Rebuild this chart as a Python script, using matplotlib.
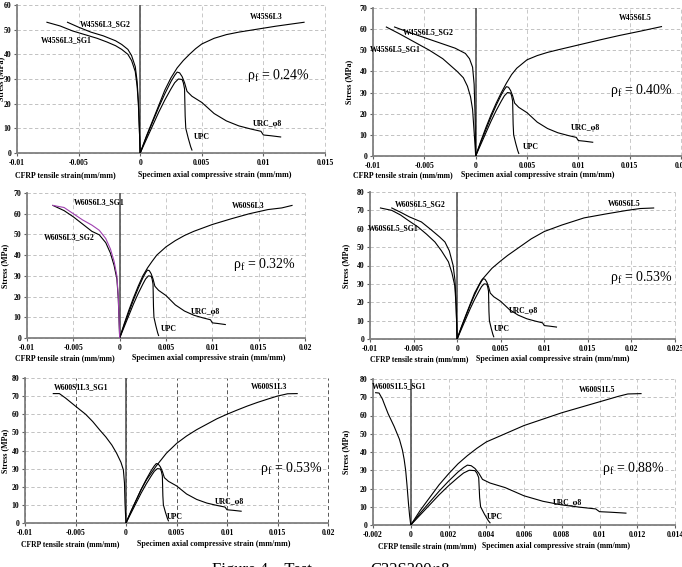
import matplotlib
matplotlib.use("Agg")
import matplotlib.pyplot as plt

plt.rcParams['font.family'] = ['Liberation Serif', 'DejaVu Serif']
plt.rcParams['mathtext.fontset'] = 'custom'
plt.rcParams['mathtext.rm'] = 'Liberation Serif'
plt.rcParams['mathtext.it'] = 'Liberation Serif:italic'

# ---------------- data ----------------
upc_x = [0, 0.0005, 0.001, 0.0015, 0.002, 0.0025, 0.0028, 0.0031, 0.0034, 0.0035, 0.0036, 0.00365, 0.0037, 0.0039, 0.0041, 0.0042]
upc_y = [0, 5.5, 11, 16.5, 21.5, 26, 28.5, 30, 29.8, 28.5, 26, 15, 10, 6, 2.5, 1.2]

urc_x = [0, 0.0005, 0.001, 0.0015, 0.002, 0.0025, 0.0028, 0.003, 0.0032, 0.0034, 0.0036, 0.0038, 0.0042, 0.005, 0.006, 0.007, 0.008, 0.009, 0.0098, 0.0100, 0.0106, 0.0114]
urc_y = [0, 6.5, 12.5, 18.5, 24, 29, 31.5, 32.8, 32.5, 31, 28.5, 25, 23, 20.5, 16, 13, 11, 9.7, 8.8, 7.3, 7, 6.5]

# panel a: W45S6L3
a_spec_x = [0, 0.0005, 0.001, 0.0015, 0.002, 0.0025, 0.003, 0.0035, 0.004, 0.0045, 0.005, 0.006, 0.007, 0.008, 0.009, 0.01, 0.011, 0.012, 0.0133]
a_spec_y = [0, 6.8, 13, 19.2, 25.5, 30.5, 34.5, 37.5, 40, 42.3, 44.2, 46.5, 48, 49, 49.8, 50.6, 51.4, 52.1, 53]
a_sg1_x = [-0.00757, -0.0065, -0.0055, -0.0045, -0.0035, -0.0027, -0.002, -0.0015, -0.001, -0.0007, -0.0004, -0.00025, -0.00015, -0.00007, 0]
a_sg1_y = [53, 51.5, 49.5, 48, 46.5, 45, 43.5, 42, 40, 37.5, 33, 27, 20, 10, 0]
a_sg2_x = [-0.0059, -0.005, -0.004, -0.003, -0.002, -0.0015, -0.001, -0.0007, -0.0004, -0.00025, -0.00015, -0.00007, 0]
a_sg2_y = [53, 51, 49, 47.5, 45.5, 44, 42, 39.5, 35, 29, 21, 10, 0]

# panel b: W45S6L5
b_spec_x = [0, 0.0005, 0.001, 0.0015, 0.002, 0.0025, 0.003, 0.0035, 0.004, 0.005, 0.006, 0.007, 0.008, 0.01, 0.012, 0.014, 0.016, 0.0181]
b_spec_y = [0, 7, 13.5, 19.5, 25, 30, 34.5, 38.5, 41.5, 45.5, 47.5, 49, 50.2, 52.5, 54.8, 57, 59, 61.2]
b_sg1_x = [-0.0087, -0.0075, -0.006, -0.0045, -0.0032, -0.0025, -0.0018, -0.0012, -0.0008, -0.0005, -0.0003, -0.00016, -0.00006, 0]
b_sg1_y = [61, 58, 54, 50, 46, 43, 40, 37, 33, 28, 22, 12, 5, 0]
b_sg2_x = [-0.0079, -0.0065, -0.005, -0.0035, -0.002, -0.001, -0.0006, -0.0003, -0.00015, -0.00006, 0]
b_sg2_y = [61, 58.5, 56, 53.5, 51, 48.5, 46, 42, 34, 20, 0]

# panel c: W60S6L3
c_spec_x = [0, 0.0005, 0.001, 0.0015, 0.002, 0.0025, 0.003, 0.0035, 0.004, 0.005, 0.006, 0.007, 0.008, 0.01, 0.012, 0.014, 0.016, 0.0175, 0.0186]
c_spec_y = [0, 7, 13.5, 19.5, 25, 30, 33.8, 37, 40, 44, 47, 49.5, 51.5, 54.8, 57.5, 60, 62, 62.8, 64]
c_sg1_x = [-0.0072, -0.006, -0.005, -0.004, -0.003, -0.0022, -0.0015, -0.001, -0.0006, -0.0003, -0.00015, -0.00007, 0]
c_sg1_y = [64, 63, 60, 57, 54.5, 52, 48, 43, 37, 30, 20, 10, 0]
c_sg2_x = [-0.0072, -0.006, -0.005, -0.004, -0.003, -0.0022, -0.0015, -0.001, -0.0006, -0.0003, -0.00015, -0.00007, 0]
c_sg2_y = [64, 61.5, 58.5, 55, 51.5, 49.8, 46, 41, 35, 28.5, 19, 9, 0]

# panel d: W60S6L5
d_spec_x = [0, 0.0005, 0.001, 0.0015, 0.002, 0.0028, 0.004, 0.005, 0.0058, 0.007, 0.0085, 0.01, 0.012, 0.01456, 0.017, 0.0195, 0.021, 0.02255]
d_spec_y = [0, 6.8, 13, 19, 25, 32, 38.5, 42.5, 45.5, 49.5, 54.5, 58.5, 62, 65.9, 68, 70, 71, 71.3]
d_sg1_x = [-0.0088, -0.0075, -0.0065, -0.0056, -0.0045, -0.0035, -0.00255, -0.0018, -0.001, -0.0006, -0.00027, -0.00012, -0.00005, 0]
d_sg1_y = [71.3, 70, 67.5, 64.5, 61, 57, 52.8, 48, 42, 36, 29, 18, 8, 0]
d_sg2_x = [-0.0075, -0.0065, -0.0055, -0.0041, -0.003, -0.002, -0.0014, -0.0009, -0.00046, -0.00025, -0.00015, -0.00005, 0]
d_sg2_y = [71.3, 69, 66.5, 63.7, 59.5, 55.5, 52.8, 48, 40, 32, 22, 8, 0]

# panel e: W600S1L3
e_spec_x = [0, 0.0005, 0.001, 0.0015, 0.00205, 0.003, 0.004, 0.00503, 0.006, 0.007, 0.008, 0.009, 0.01, 0.011, 0.012, 0.013, 0.014, 0.01497, 0.016, 0.01695]
e_spec_y = [0, 6.5, 12.5, 18.5, 24, 31.5, 38.5, 44, 48, 51.5, 54.5, 57.5, 60, 62.3, 64.5, 66.5, 68.3, 70, 71.3, 71.4]
e_sg1_x = [-0.0072, -0.0066, -0.006, -0.0049, -0.004, -0.0033, -0.0026, -0.002, -0.0014, -0.00093, -0.0005, -0.00026, -0.00015, -0.0001, -0.00005, 0]
e_sg1_y = [71.4, 71.4, 69, 64, 60, 56, 51.3, 47.5, 43, 38.5, 33.5, 29.3, 22, 11, 5, 0]

# panel f: W600S1L5
f_spec_x = [0, 0.0005, 0.001, 0.0015, 0.002, 0.0025, 0.003, 0.0035, 0.004, 0.005, 0.006, 0.007, 0.008, 0.009, 0.01, 0.011, 0.0115, 0.0122]
f_spec_y = [0, 8, 15, 22, 28, 33.5, 38, 42, 45.5, 50, 54.5, 58, 61.5, 64.5, 67.5, 70.5, 71.8, 72]
f_sg1_x = [-0.00186, -0.00168, -0.0015, -0.00142, -0.0012, -0.00088, -0.0006, -0.00044, -0.00035, -0.00027, -0.0002, -0.00012, -0.00006, 0]
f_sg1_y = [72.5, 72.3, 69, 66.8, 61, 54, 47, 41, 36, 30, 22, 11.7, 5, 0]

W, H = 682, 567
fig = plt.figure(figsize=(W / 100, H / 100), dpi=100)


def rect(l, t, r, b):
    return [l / W, 1 - b / H, (r - l) / W, (b - t) / H]


def fx(px):
    return px / W


def fy(py):
    return 1 - py / H


lbl = dict(fontweight='bold', fontsize=5.6)

panels = [
    dict(r=(17, 5, 325, 153), xlim=(-0.01, 0.015), ylim=(0, 60), xt=[-0.01, -0.005, 0, 0.005, 0.01, 0.015],
         xtl=['-0.01', '-0.005', '0', '0.005', '0.01', '0.015'],
         spec=(a_spec_x, a_spec_y, 'W45S6L3', (0.00891, 55.1)),
         sgs=[(a_sg1_x, a_sg1_y, 'W45S6L3_SG1', (-0.00805, 45.8), 'black'),
              (a_sg2_x, a_sg2_y, 'W45S6L3_SG2', (-0.00489, 52.3), 'black')],
         rho='0.24%', rho_xy=(0.00867, 31.6), urc_xy=(0.00916, 11.8), upc_xy=(0.00437, 6.5),
         ylab_x=1, xl1=('CFRP tensile strain(mm/mm)', 15, 175, 5.7), xl2=('Specimen axial compressive strain (mm/mm)', 138, 175, 5.7)),
    dict(r=(373, 8, 681, 156), xlim=(-0.01, 0.02), ylim=(0, 70), xt=[-0.01, -0.005, 0, 0.005, 0.01, 0.015, 0.02],
         xtl=['-0.01', '-0.005', '0', '0.005', '0.01', '0.015', '0.02'],
         spec=(b_spec_x, b_spec_y, 'W45S6L5', (0.01396, 65.3)),
         sgs=[(b_sg1_x, b_sg1_y, 'W45S6L5_SG1', (-0.0103, 50.6), 'black'),
              (b_sg2_x, b_sg2_y, 'W45S6L5_SG2', (-0.00708, 58.7), 'black')],
         rho='0.40%', rho_xy=(0.01308, 31.2), urc_xy=(0.00929, 13.2), upc_xy=(0.00461, 4.3),
         ylab_x=349, xl1=('CFRP tensile strain (mm/mm)', 353, 175, 5.6), xl2=('Specimen axial compressive strain (mm/mm)', 461, 175, 5.7)),
    dict(r=(27, 193, 305, 338), xlim=(-0.01, 0.02), ylim=(0, 70), xt=[-0.01, -0.005, 0, 0.005, 0.01, 0.015, 0.02],
         xtl=['-0.01', '-0.005', '0', '0.005', '0.01', '0.015', '0.02'],
         spec=(c_spec_x, c_spec_y, 'W60S6L3', (0.0121, 63.7)),
         sgs=[(c_sg2_x, c_sg2_y, 'W60S6L3_SG2', (-0.00817, 48.8), 'black'),
              (c_sg1_x, c_sg1_y, 'W60S6L3_SG1', (-0.00493, 65.7), '#a040b0')],
         rho='0.32%', rho_xy=(0.0122, 35.7), urc_xy=(0.0077, 12.6), upc_xy=(0.00445, 4.3),
         ylab_x=5, xl1=('CFRP tensile strain (mm/mm)', 15, 358, 5.6), xl2=('Specimen axial compressive strain (mm/mm)', 132, 358, 5.7)),
    dict(r=(370, 192, 675, 339), xlim=(-0.01, 0.025), ylim=(0, 80), xt=[-0.01, -0.005, 0, 0.005, 0.01, 0.015, 0.02, 0.025],
         xtl=['-0.01', '-0.005', '0', '0.005', '0.01', '0.015', '0.02', '0.025'],
         spec=(d_spec_x, d_spec_y, 'W60S6L5', (0.0173, 73.5)),
         sgs=[(d_sg1_x, d_sg1_y, 'W60S6L5_SG1', (-0.0102, 60.4), 'black'),
              (d_sg2_x, d_sg2_y, 'W60S6L5_SG2', (-0.00713, 73.5), 'black')],
         rho='0.53%', rho_xy=(0.01754, 33.2), urc_xy=(0.00595, 15.2), upc_xy=(0.00423, 5.4),
         ylab_x=346, xl1=('CFRP tensile strain (mm/mm)', 370, 359, 5.5), xl2=('Specimen axial compressive strain (mm/mm)', 476, 359, 5.7)),
    dict(r=(25, 378, 328, 523), xlim=(-0.01, 0.02), ylim=(0, 80), xt=[-0.01, -0.005, 0, 0.005, 0.01, 0.015, 0.02],
         xtl=['-0.01', '-0.005', '0', '0.005', '0.01', '0.015', '0.02'],
         spec=(e_spec_x, e_spec_y, 'W600S1L3', (0.01238, 75)),
         sgs=[(e_sg1_x, e_sg1_y, 'W600S1L3_SG1', (-0.00713, 75), 'black')],
         rho='0.53%', rho_xy=(0.01327, 30.3), urc_xy=(0.00881, 11.6), upc_xy=(0.00406, 3.3),
         ylab_x=5, xl1=('CFRP tensile strain (mm/mm)', 21, 544, 5.5), xl2=('Specimen axial compressive strain (mm/mm)', 137, 544, 5.7),
         dark_vgrid=True),
    dict(r=(373, 379, 675, 525), xlim=(-0.002, 0.014), ylim=(0, 80),
         xt=[-0.002, 0, 0.002, 0.004, 0.006, 0.008, 0.01, 0.012, 0.014],
         xtl=['-0.002', '0', '0.002', '0.004', '0.006', '0.008', '0.01', '0.012', '0.014'],
         spec=(f_spec_x, f_spec_y, 'W600S1L5', (0.00891, 74)),
         sgs=[(f_sg1_x, f_sg1_y, 'W600S1L5_SG1', (-0.00205, 76.2), 'black')],
         rho='0.88%', rho_xy=(0.01013, 31.2), urc_xy=(0.00754, 12), upc_xy=(0.00404, 4.4),
         ylab_x=346, xl1=('CFRP tensile strain (mm/mm)', 378, 546, 5.5), xl2=('Specimen axial compressive strain (mm/mm)', 482, 546, 5.6)),
]

for p in panels:
    ax = fig.add_axes(rect(*p['r']))
    ax.set_xlim(*p['xlim'])
    ax.set_ylim(*p['ylim'])
    ax.set_xticks(p['xt'])
    ax.set_xticklabels(p['xtl'])
    ax.set_yticks(list(range(0, p['ylim'][1] + 1, 10)))
    for s in ('top', 'right'):
        ax.spines[s].set_visible(False)
    for s in ('left', 'bottom'):
        ax.spines[s].set_color('#808080')
        ax.spines[s].set_linewidth(1.3)
    ax.tick_params(axis='both', direction='out', length=2.5, width=0.8, color='#606060', pad=1.5)
    for t in ax.get_xticklabels() + ax.get_yticklabels():
        t.set_fontweight('bold')
        t.set_fontsize(5.6)
    ax.grid(axis='y', linestyle=(0, (4, 3)), color='#b8b8b8', linewidth=0.6)
    vcol = '#555555' if p.get('dark_vgrid') else '#c8c8c8'
    ax.grid(axis='x', linestyle=(0, (4, 3)), color=vcol, linewidth=0.7)
    ax.set_axisbelow(True)
    for line in ax.get_ygridlines() + ax.get_xgridlines():
        line.set_clip_on(False)

    ax.axvline(0, color='#555555', lw=1.2, zorder=3)

    ax.plot(upc_x, upc_y, color='black', lw=0.8, zorder=4)
    ax.plot(urc_x, urc_y, color='black', lw=0.8, zorder=4)
    sx, sy, sname, sxy = p['spec']
    ax.plot(sx, sy, color='black', lw=0.8, zorder=4)
    ax.text(sxy[0], sxy[1], sname, ha='left', va='center', **lbl)
    for gx, gy, gname, gxy, col in p['sgs']:
        ax.plot(gx, gy, color=col, lw=0.8, zorder=4)
        ax.text(gxy[0], gxy[1], gname, ha='left', va='center', zorder=5, clip_on=False, **lbl)
    ax.text(p['urc_xy'][0], p['urc_xy'][1], 'URC_φ8', ha='left', va='center', **lbl)
    ax.text(p['upc_xy'][0], p['upc_xy'][1], 'UPC', ha='left', va='center', **lbl)
    ax.text(p['rho_xy'][0], p['rho_xy'][1], r'$\mathrm{ρ}_\mathrm{f}$ = ' + p['rho'],
            ha='left', va='center', fontsize=10)

    l, t, r, b = p['r']
    fig.text(fx(p['ylab_x']), fy((t + b) / 2), 'Stress (MPa)', rotation=90,
             ha='center', va='center', fontweight='bold', fontsize=5.8)
    for txt, x0, y0, fs in (p['xl1'], p['xl2']):
        fig.text(fx(x0), fy(y0), txt, ha='left', va='center', fontweight='bold', fontsize=fs)

fig.text(fx(212), fy(574), 'Figure 4 – Test', ha='left', va='baseline', fontsize=12)
fig.text(fx(370), fy(574), 'C32S300φ8', ha='left', va='baseline', fontsize=12)

fig.savefig('out.png', dpi=100)
